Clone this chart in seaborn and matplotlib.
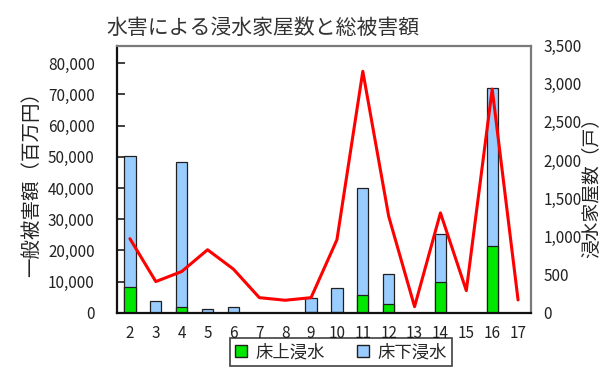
import numpy as np
import pandas as pd
import matplotlib
matplotlib.use("Agg")
import matplotlib.pyplot as plt
from matplotlib.patches import Patch
import seaborn as sns

sns.set_theme(style="white")
plt.rcParams["font.family"] = ["Noto Sans CJK JP", "DejaVu Sans"]

# Heisei years 2..17
years = ["2", "3", "4", "5", "6", "7", "8", "9", "10", "11", "12", "13", "14", "15", "16", "17"]
# flooded houses (戸)
above_floor = [342, 0, 71, 0, 0, 0, 0, 10, 8, 229, 115, 0, 408, 0, 869, 0]      # 床上浸水
below_floor = [1713, 150, 1905, 53, 71, 0, 0, 180, 321, 1401, 395, 0, 625, 0, 2078, 0]  # 床下浸水
# general damage amount (百万円)
damage = [23740, 9990, 13200, 20190, 13970, 4830, 3990, 4830, 23410, 77420,
          30920, 1930, 32010, 7090, 71720, 4090]

title = "水害による浸水家屋数と総被害額"
left_label = "一般被害額（百万円）"
right_label = "浸水家屋数（戸）"
legend_labels = ["床上浸水", "床下浸水"]

green = "#00E800"
blue = "#99CCFF"
red = "#FF0000"

df = pd.DataFrame({
    "year": years,
    "above": above_floor,
    "total": np.array(above_floor) + np.array(below_floor),
})

fig = plt.figure(figsize=(6.05, 3.67), dpi=100)
ax = fig.add_axes([117 / 605, 1 - 312.7 / 367, (531 - 117) / 605, (312.7 - 45.5) / 367])
axr = ax.twinx()

# stacked bars for house counts on the right axis
sns.barplot(data=df, x="year", y="total", order=years, color=blue, width=0.43,
            edgecolor="#202020", linewidth=0.9, errorbar=None, saturation=1, ax=axr)
sns.barplot(data=df, x="year", y="above", order=years, color=green, width=0.43,
            edgecolor="#202020", linewidth=0.9, errorbar=None, saturation=1, ax=axr)

# damage line on the left axis, drawn above the bars
pos = np.arange(len(years))
sns.lineplot(x=pos, y=damage, color=red, linewidth=2.2, ax=ax)
ax.set_zorder(axr.get_zorder() + 1)
ax.patch.set_visible(False)

ax.set_xlim(-0.5, len(years) - 0.5)
axr.set_xlim(-0.5, len(years) - 0.5)
ax.set_ylim(0, 85700)
axr.set_ylim(0, 3500)

ax.set_yticks(np.arange(0, 80001, 10000))
ax.set_yticklabels([f"{v:,}" for v in range(0, 80001, 10000)])
axr.set_yticks(np.arange(0, 3501, 500))
axr.set_yticklabels([f"{v:,}" for v in range(0, 3501, 500)])

# category ticks at slot boundaries, labels at slot centres
ax.set_xticks(np.arange(-0.5, len(years) - 0.4, 1.0))
ax.set_xticklabels([])
ax.set_xticks(pos, minor=True)
ax.set_xticklabels(years, minor=True)
ax.tick_params(axis="x", which="major", direction="in", length=4, width=1, color="#202020")
ax.tick_params(axis="x", which="minor", length=0, pad=9, labelsize=11, labelcolor="#222222")
axr.tick_params(axis="x", which="both", length=0, labelbottom=False)
axr.set_xlabel("")

ax.tick_params(axis="y", direction="in", length=6, width=1.2, color="#202020",
               pad=16, labelsize=11, labelcolor="#222222", left=True)
axr.tick_params(axis="y", length=0, pad=9, labelsize=11, labelcolor="#222222")

ax.set_xlabel("")
ax.set_ylabel(left_label, fontsize=14, color="#222222", labelpad=4)
axr.set_ylabel("")
fig.text(591 / 605, 0.5, right_label, rotation=90, ha="center", va="center",
         fontsize=13.5, color="#222222")

for side in ["left", "bottom"]:
    ax.spines[side].set_color("#111111")
    ax.spines[side].set_linewidth(1.6)
for side in ["top", "right"]:
    ax.spines[side].set_color("#7a7a7a")
    ax.spines[side].set_linewidth(1.6)
for s in axr.spines.values():
    s.set_visible(False)

fig.text(263 / 605, 1 - 28 / 367, title, ha="center", va="center",
         fontsize=15, color="#333333")

handles = [Patch(facecolor=green, edgecolor="#202020", linewidth=1.0),
           Patch(facecolor=blue, edgecolor="#202020", linewidth=1.0)]
leg = fig.legend(handles, legend_labels, loc="upper center",
                 bbox_to_anchor=(341 / 605, 1 - 338 / 367), ncol=2, fontsize=12.5,
                 frameon=True, fancybox=False, edgecolor="#111111",
                 handlelength=0.7, handleheight=0.7, handletextpad=0.5,
                 columnspacing=1.8, borderpad=0.3, borderaxespad=0)
leg.get_frame().set_linewidth(1.2)

fig.savefig("out.png", dpi=100)
